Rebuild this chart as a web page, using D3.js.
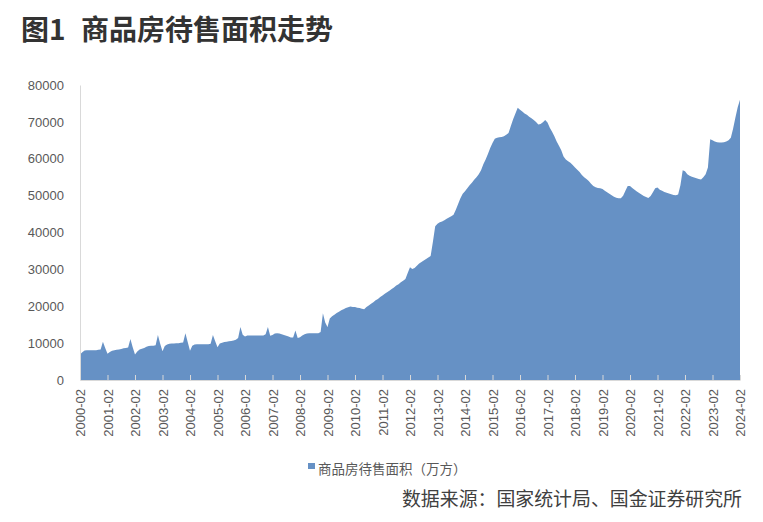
<!DOCTYPE html>
<html><head><meta charset="utf-8">
<script src="https://cdn.jsdelivr.net/npm/d3@7"></script>
<style>
html,body{margin:0;padding:0;background:#fff;}
svg{display:block;}
</style></head>
<body>
<svg id="chart" width="763" height="522"></svg>
<script>
// Monthly values (万方), each array: Feb of the year .. Jan of next year
const y2000 = [6900, 7500, 8000, 8100, 8100, 8100, 8100, 8100, 8200, 8300, 10400, 8700];
const y2001 = [7100, 7600, 7900, 8100, 8200, 8300, 8400, 8600, 8700, 8800, 11100, 8900];
const y2002 = [6900, 7700, 8300, 8500, 8700, 9000, 9200, 9300, 9300, 9400, 12200, 9800];
const y2003 = [7800, 9200, 9600, 9800, 9900, 9900, 10000, 10000, 10100, 10200, 12700, 10300];
const y2004 = [7900, 9300, 9600, 9700, 9700, 9700, 9700, 9700, 9700, 9800, 12200, 10500];
const y2005 = [8900, 9900, 10100, 10300, 10400, 10500, 10600, 10700, 10900, 11400, 14400, 12300];
const y2006 = [11800, 12100, 12100, 12100, 12100, 12100, 12100, 12100, 12100, 12400, 14400, 12000];
const y2007 = [12200, 12600, 12700, 12600, 12400, 12200, 12000, 11800, 11500, 11500, 13400, 11400];
const y2008 = [11600, 12100, 12400, 12600, 12700, 12700, 12700, 12700, 12700, 13000, 18100, 15600];
const y2009 = [14400, 16700, 17300, 17700, 18200, 18500, 18900, 19200, 19500, 19700, 19900, 19800];
const y2010 = [19800, 19600, 19500, 19300, 19200, 19800, 20200, 20700, 21100, 21600, 22000, 22500];
const y2011 = [22900, 23400, 23800, 24200, 24700, 25100, 25600, 26000, 26500, 26900, 27400, 29000];
const y2012 = [30600, 30100, 30400, 31000, 31600, 32000, 32400, 32800, 33200, 33600, 37500, 41700];
const y2013 = [42400, 42800, 43000, 43300, 43700, 44100, 44400, 44800, 46200, 47700, 49300, 50500];
const y2014 = [51200, 52000, 52800, 53500, 54300, 55000, 55800, 56900, 58500, 59800, 61300, 62900];
const y2015 = [64300, 65400, 65700, 65800, 65900, 66100, 66500, 67000, 68900, 70700, 72300, 73800];
const y2016 = [73300, 72800, 72300, 71900, 71400, 71000, 70500, 70000, 69300, 69400, 69900, 70500];
const y2017 = [69800, 68400, 67300, 66100, 64700, 63500, 62300, 60600, 59800, 59300, 58900, 58300];
const y2018 = [57600, 57000, 56400, 55600, 55000, 54500, 54000, 53200, 52600, 52300, 52100, 52000];
const y2019 = [51800, 51300, 50900, 50500, 50100, 49700, 49400, 49300, 49300, 50000, 51300, 52600];
const y2020 = [52600, 52100, 51600, 51100, 50700, 50300, 49900, 49600, 49350, 49900, 50900, 52000];
const y2021 = [52200, 51600, 51300, 51000, 50800, 50600, 50400, 50200, 50100, 50300, 52800, 56900];
const y2022 = [56600, 55800, 55400, 55100, 54900, 54700, 54500, 54400, 55000, 55800, 57600, 65300];
const y2023 = [65000, 64700, 64500, 64400, 64400, 64500, 64700, 65000, 65700, 68200, 71200, 74000];
const y2024 = [75969];

const years = [2000,2001,2002,2003,2004,2005,2006,2007,2008,2009,2010,2011,2012,2013,2014,2015,2016,2017,2018,2019,2020,2021,2022,2023];
const monthsOrder = ["02","03","04","05","06","07","08","09","10","11","12","01"];
const tickLabels = ["2000-02","2001-02","2002-02","2003-02","2004-02","2005-02","2006-02","2007-02","2008-02","2009-02","2010-02","2011-02","2012-02","2013-02","2014-02","2015-02","2016-02","2017-02","2018-02","2019-02","2020-02","2021-02","2022-02","2023-02","2024-02"];
const yTicks = [0,10000,20000,30000,40000,50000,60000,70000,80000];
const seriesName = "商品房待售面积（万方）";
const titleNum = "图1";
const titleText = "商品房待售面积走势";
const sourceText = "数据来源：国家统计局、国金证券研究所";

const values = [].concat(y2000,y2001,y2002,y2003,y2004,y2005,y2006,y2007,y2008,y2009,y2010,y2011,
  y2012,y2013,y2014,y2015,y2016,y2017,y2018,y2019,y2020,y2021,y2022,y2023,y2024);
const categories = [];
years.forEach(y => monthsOrder.forEach(m => categories.push((m === "01" ? y + 1 : y) + "-" + m)));
categories.push("2024-02");
const data = categories.map((c, i) => ({c, v: values[i]}));

const svg = d3.select("#chart");
const font = "'Liberation Sans', Arial, 'Noto Sans CJK SC', sans-serif";
const cjk = "'Noto Sans CJK SC', 'Noto Sans', sans-serif";
const axisColor = "#d9d9d9";
const textColor = "#595959";
const fill = "#6691c5";

const x = d3.scalePoint().domain(categories).range([80, 740]);
const y = d3.scaleLinear().domain([0, 80000]).range([380, 85]);

// Title
svg.append("text").attr("x", 21).attr("y", 40)
  .attr("font-family", cjk).attr("font-weight", 700).attr("font-size", 28)
  .attr("fill", "#333").text(titleNum);
svg.append("text").attr("x", 81).attr("y", 40)
  .attr("font-family", cjk).attr("font-weight", 700).attr("font-size", 28)
  .attr("fill", "#333").text(titleText);

// Area
const area = d3.area().x(d => x(d.c)).y0(y(0)).y1(d => y(d.v));
svg.append("path").datum(data).attr("d", area).attr("fill", fill);

// Y axis
const yAxis = d3.axisLeft(y).tickValues(yTicks).tickSize(0).tickPadding(16).tickFormat(d3.format("d"));
const gy = svg.append("g").attr("transform", "translate(80,0)").call(yAxis);
gy.select(".domain").attr("stroke", axisColor);
gy.selectAll("text").attr("font-family", font).attr("font-size", 13).attr("fill", textColor);

// X axis
const xAxis = d3.axisBottom(x).tickValues(tickLabels).tickSizeInner(-5).tickSizeOuter(0).tickPadding(9);
const gx = svg.append("g").attr("transform", "translate(0,380)").call(xAxis);
gx.select(".domain").attr("stroke", axisColor);
gx.selectAll(".tick line").attr("stroke", axisColor);
gx.selectAll("text").attr("font-family", font).attr("font-size", 13).attr("fill", textColor)
  .attr("transform", "rotate(-90)").attr("text-anchor", "end")
  .attr("x", -9).attr("y", 0).attr("dy", "0.35em");

// Legend
svg.append("rect").attr("x", 308).attr("y", 463).attr("width", 7).attr("height", 6).attr("fill", fill);
svg.append("text").attr("x", 318).attr("y", 467.5).attr("dominant-baseline", "central")
  .attr("font-family", cjk).attr("font-size", 13.5).attr("fill", textColor).text(seriesName);

// Source
svg.append("text").attr("x", 742).attr("y", 497.5).attr("text-anchor", "end").attr("dominant-baseline", "central")
  .attr("font-family", cjk).attr("font-size", 18.9).attr("fill", "#404040").text(sourceText);
</script>
</body></html>
